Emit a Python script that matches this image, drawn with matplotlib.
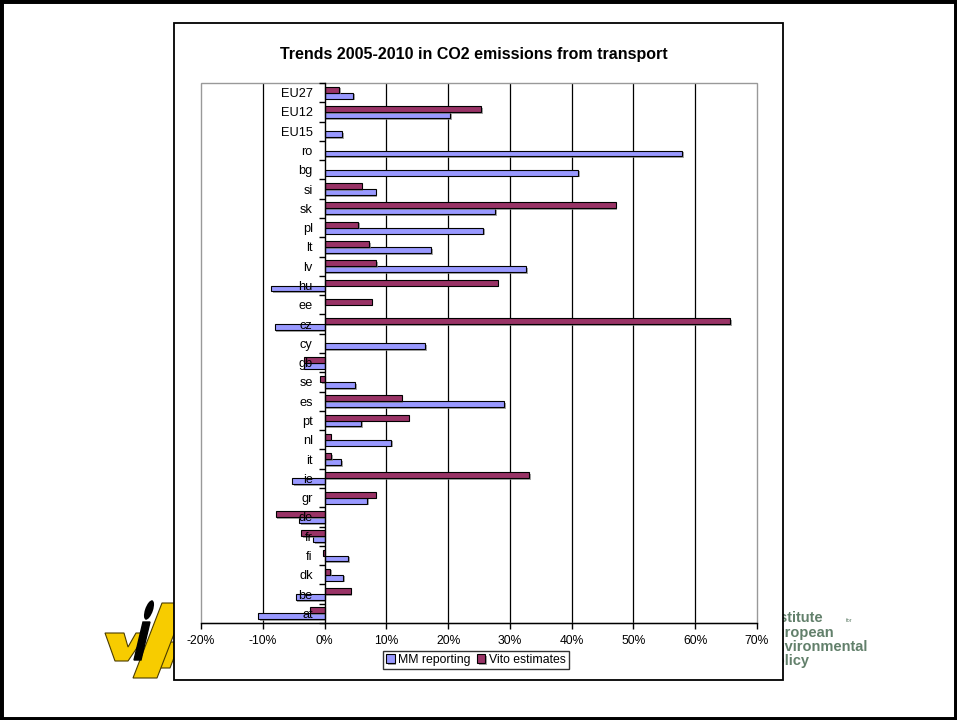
import matplotlib
matplotlib.use('Agg')
import matplotlib.pyplot as plt
import matplotlib.patheffects as pe
from matplotlib.patches import Rectangle, Polygon, Ellipse
from matplotlib.ticker import FixedLocator, FuncFormatter
import numpy as np

plt.rcParams['font.family'] = ['Liberation Sans', 'DejaVu Sans']

# countries, listed top to bottom as they appear on the chart
countries = ['EU27', 'EU12', 'EU15', 'ro', 'bg', 'si', 'sk', 'pl', 'lt', 'lv',
             'hu', 'ee', 'cz', 'cy', 'gb', 'se', 'es', 'pt', 'nl', 'it',
             'ie', 'gr', 'de', 'fr', 'fi', 'dk', 'be', 'at']

# % change 2005-2010 (nan = no value)
mm_reporting = [4.6, 20.3, 2.9, 57.9, 41.1, 8.3, 27.6, 25.7, 17.3, 32.6,
                -8.6, np.nan, -8.1, 16.3, -3.3, 5.0, 29.1, 5.9, 10.8, 2.7,
                -5.2, 6.9, -4.1, -1.8, 3.8, 3.0, -4.7, -10.7]
vito_estimates = [2.4, 25.4, np.nan, np.nan, np.nan, 6.0, 47.1, 5.4, 7.2, 8.4,
                  28.0, 7.6, 65.7, np.nan, -3.4, -0.7, 12.5, 13.6, 1.0, 1.1,
                  33.1, 8.3, -7.9, -3.8, -0.3, 0.9, 4.2, -2.3]

W, H = 957, 720
fig = plt.figure(figsize=(W / 100, H / 100), dpi=100)


def fx(px):
    return px / W


def fy(py):
    return 1 - py / H


def fig_poly(pts, **kw):
    fig.patches.append(Polygon([(fx(x), fy(y)) for x, y in pts], closed=True,
                               transform=fig.transFigure, **kw))


# slide border
fig.patches.append(Rectangle((0, 0), 1, 1, transform=fig.transFigure,
                             fill=False, edgecolor='black', linewidth=5,
                             zorder=10))

# logos, partly hidden behind the chart frame
yellow = '#f7cc00'
outline = dict(facecolor=yellow, edgecolor='#4a3c00', linewidth=0.8, zorder=-3)
fig_poly([(105, 633), (124, 633), (128, 647), (136, 633), (147, 633),
          (128, 661), (115, 661)], **outline)
fig_poly([(150, 642), (180, 642), (170, 668), (140, 668)], **outline)
fig_poly([(162, 603), (186, 603), (157, 678), (133, 678)], **outline)
fig_poly([(143, 622), (150, 622), (141, 660), (134, 660)],
         facecolor='black', edgecolor='black', zorder=-2)
fig.patches.append(Ellipse((fx(149), fy(610)), fx(8), 20 / H, angle=-14,
                           transform=fig.transFigure, facecolor='black',
                           zorder=-2))

ieep_lines = ['Institute', 'European', 'Environmental', 'Policy']
for i, line in enumerate(ieep_lines):
    fig.text(fx(766), fy(618 + 14.5 * i), line, color='#62806b',
             fontsize=10.5, fontweight='semibold', ha='left', va='center',
             zorder=-3)
fig.text(fx(846), fy(620), 'for', color='#62806b', fontsize=4, zorder=-3,
         ha='left', va='center')

# chart frame
fig.patches.append(Rectangle((fx(174), fy(680)), fx(783 - 174), (680 - 23) / H,
                             transform=fig.transFigure, facecolor='white',
                             edgecolor='black', linewidth=1.3, zorder=-1))

fig.text(fx(474), fy(55), 'Trends 2005-2010 in CO2 emissions from transport',
         ha='center', va='center', fontsize=11.5, fontweight='bold')

ax = fig.add_axes([fx(201), fy(623), fx(757 - 201), (623 - 83) / H])
ax.set_axisbelow(False)

n = len(countries)
y = np.arange(n)[::-1]
h = 0.31
shadow = [pe.SimplePatchShadow(offset=(1.2, -1.2), shadow_rgbFace='#808080',
                               alpha=0.7), pe.Normal()]
b1 = ax.barh(y - h / 2, mm_reporting, height=h, color='#9999ff',
             edgecolor='black', linewidth=0.8, label='MM reporting', zorder=2)
b2 = ax.barh(y + h / 2, vito_estimates, height=h, color='#993366',
             edgecolor='black', linewidth=0.8, label='Vito estimates', zorder=2)
for bar in list(b1) + list(b2):
    bar.set_path_effects(shadow)

ax.set_xlim(-20, 70)
ax.set_ylim(-0.5, n - 0.5)

ax.xaxis.set_major_locator(FixedLocator(np.arange(-20, 71, 10)))
ax.xaxis.set_major_formatter(FuncFormatter(lambda v, p: '%d%%' % v))
ax.tick_params(axis='x', direction='out', length=4, width=1, pad=5,
               labelsize=8.7)
for v in [-10, 10, 20, 30, 40, 50, 60]:
    ax.axvline(v, color='black', linewidth=0.9, zorder=1)

# category axis sits on 0%
ax.spines['left'].set_position(('data', 0))
ax.spines['left'].set_linewidth(1)
ax.spines['right'].set_visible(False)
ax.spines['top'].set_visible(False)
ax.spines['bottom'].set_linewidth(1)
ax.set_yticks(y)
ax.set_yticklabels(countries)
ax.set_yticks(np.arange(n + 1) - 0.5, minor=True)
ax.tick_params(axis='y', which='major', length=0, pad=8.5, labelsize=9.2)
ax.tick_params(axis='y', which='minor', direction='out', length=4, width=1)

# grey plot area border
ax.add_patch(Rectangle((0, 0), 1, 1, transform=ax.transAxes, fill=False,
                       edgecolor='#999999', linewidth=1, zorder=1.5,
                       clip_on=False))

leg = fig.legend(handles=[b1, b2], loc='center', ncol=2,
                 bbox_to_anchor=(fx(476), fy(660)), fontsize=8.8,
                 frameon=True, fancybox=False, edgecolor='black',
                 handlelength=0.7, handleheight=0.7, handletextpad=0.3,
                 columnspacing=0.5, borderpad=0.25, borderaxespad=0)
leg.get_frame().set_linewidth(1)

fig.savefig('out.png', dpi=100)
